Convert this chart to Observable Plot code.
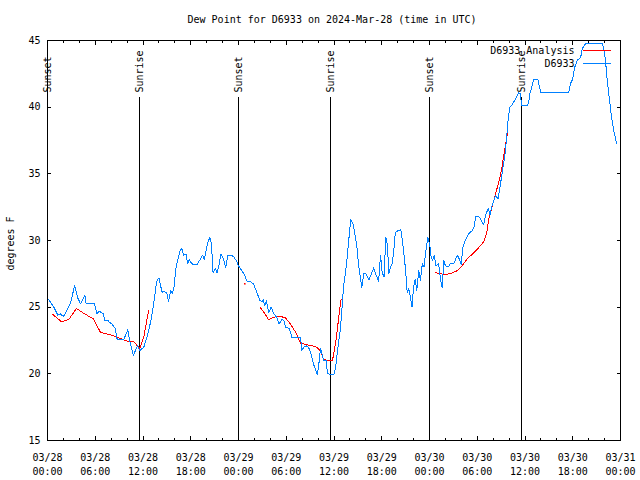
<!DOCTYPE html>
<html><head><meta charset="utf-8">
<script src="https://cdn.jsdelivr.net/npm/d3@7"></script>
<script src="https://cdn.jsdelivr.net/npm/@observablehq/plot@0.6"></script>
<style>
html,body{margin:0;padding:0;background:#fff;}
#chart svg{display:block;}
#chart svg path, #chart svg line, #chart svg rect{shape-rendering:crispEdges;}
</style>
</head><body><div id="chart"></div>
<script>
const title = "Dew Point for D6933 on 2024-Mar-28 (time in UTC)";
const yLabel = "degrees F";
const startISO = "2024-03-28T00:00:00Z";
const endISO = "2024-03-31T00:00:00Z";
const yTicks = [15, 20, 25, 30, 35, 40, 45];
const seriesNames = ["D6933 Analysis", "D6933"];
const seriesColors = ["#ff0000", "#0080ff"];
const eventLabels = ["Sunset", "Sunrise", "Sunset", "Sunrise", "Sunset", "Sunrise"];
const eventHours = [0.0, 11.56, 24.0, 35.55, 48.0, 59.55];

// observations (hours since 03/28 00:00 UTC, dew point F)
const obsHours = [0.16,0.8,1.3,1.6,2.0,2.4,2.9,3.4,3.8,4.15,4.7,4.85,5.9,6.2,6.5,7.0,7.2,7.6,7.7,8.1,8.5,8.75,9.6,10.1,10.35,10.8,11.3,11.6,12.1,12.5,13.0,13.4,13.7,14.0,14.4,14.6,15.0,15.2,15.5,15.7,15.9,16.1,16.3,16.7,16.9,17.1,17.4,17.6,17.8,17.97,18.3,18.8,19.2,19.5,19.7,20.1,20.4,20.6,20.8,21.1,21.3,21.5,21.8,22.1,22.4,22.65,23.0,23.4,23.8,24.0,24.4,24.7,25.1,25.5,25.9,26.3,26.7,27.0,27.1,27.3,27.5,27.8,28.1,28.4,28.85,29.1,29.5,29.7,29.9,30.1,30.4,30.7,31.2,31.8,31.96,32.2,32.5,32.8,33.1,33.5,33.8,33.9,34.1,34.3,34.5,34.7,35.0,35.2,36.0,36.2,36.6,36.8,37.2,37.6,37.9,38.1,38.4,38.6,38.9,39.1,39.3,39.5,39.75,40.0,40.4,40.7,41.0,41.2,41.4,41.6,41.85,42.05,42.3,42.5,42.7,42.9,43.1,43.3,43.5,43.7,44.1,44.4,44.7,45.0,45.2,45.4,45.6,45.8,46.0,46.2,46.4,46.65,46.85,47.1,47.3,47.5,47.8,48.05,48.2,48.4,48.6,48.8,49.1,49.2,49.4,49.6,49.8,50.0,50.4,50.6,51.05,51.5,51.8,51.98,52.2,52.5,52.9,53.4,53.6,53.8,54.3,54.5,54.8,55.1,55.4,55.6,55.8,56.1,56.3,56.6,56.8,57.05,57.3,57.5,57.7,57.9,58.1,58.4,58.8,59.2,59.4,59.6,60.3,60.5,60.6,60.9,61.1,61.6,61.8,62.0,65.5,65.7,66.0,66.2,66.55,67.0,67.2,67.6,69.7,69.9,70.1,70.2,70.35,70.55,70.8,71.0,71.2,71.3,71.5];
const obsDew = [25.55,25.0,24.4,24.5,24.3,24.7,25.3,26.6,25.7,25.25,25.9,25.3,25.3,24.5,24.7,24.5,24.0,24.0,23.9,23.75,23.4,22.6,22.6,23.3,22.4,21.4,22.1,21.75,22.0,22.75,24.0,25.5,26.9,27.2,26.1,26.2,26.05,25.4,26.25,26.0,26.5,27.75,28.4,29.3,29.4,28.9,29.0,28.25,28.6,28.4,28.2,28.2,28.6,28.9,28.6,29.75,30.25,29.75,27.6,27.9,27.6,28.0,29.0,28.6,28.0,28.9,28.9,28.8,28.4,28.1,27.75,27.5,26.9,26.9,26.75,26.1,25.5,25.4,25.6,25.1,25.5,24.6,25.0,24.55,24.2,23.75,24.1,24.0,23.5,23.45,23.4,22.75,22.7,22.7,21.75,22.0,22.1,22.0,21.5,20.6,20.1,19.95,20.75,21.9,21.5,21.0,21.0,20.0,19.95,20.5,22.5,23.3,26.5,28.4,30.3,31.55,31.25,30.6,29.4,28.1,27.25,26.5,27.5,27.5,27.05,27.5,27.95,27.5,27.25,26.9,28.9,27.6,27.25,30.25,29.75,27.5,28.0,28.25,29.1,30.6,30.75,30.8,29.5,27.75,26.1,26.4,25.75,25.0,26.5,27.1,26.25,27.75,27.0,28.25,28.0,29.0,30.25,29.6,28.75,28.5,28.9,28.1,28.25,28.0,27.0,26.45,28.5,28.1,28.05,28.25,28.25,28.9,28.55,28.2,29.5,30.0,30.5,30.75,31.0,31.8,31.75,31.5,31.2,32.0,32.4,31.9,32.5,33.0,33.4,33.1,33.75,34.75,35.75,36.5,37.75,39.25,40.0,40.2,40.6,41.1,41.0,40.1,40.1,40.5,41.0,41.6,42.1,42.1,41.6,41.1,41.1,41.75,42.1,42.9,43.5,43.75,44.4,44.75,44.75,44.4,43.6,42.9,41.9,40.9,39.6,38.75,38.1,37.9,37.25];

// analysis (null = gap)
const anaHours = [0.67,1.76,2.7,3.64,4.4,5.8,6.66,8.1,10.0,10.85,11.6,12.1,12.7,null,24.8,null,26.76,27.2,27.8,28.4,29.3,29.9,30.5,31.2,31.8,32.4,33.7,34.2,34.7,35.2,35.8,36.0,36.3,36.5,36.7,36.9,null,48.75,49.4,50.0,50.8,51.55,52.1,52.7,53.6,54.4,54.8,55.2,55.45,55.9,56.3,56.8,57.1,57.5,57.8];
const anaDew = [24.45,23.9,24.1,24.9,24.6,24.1,23.1,22.9,22.45,22.4,21.9,22.75,24.75,null,26.75,null,24.95,24.6,24.05,24.25,24.3,24.2,23.75,23.1,22.3,22.2,22.05,21.8,21.1,21.0,21.0,21.6,22.75,23.75,24.75,25.6,null,27.6,27.5,27.45,27.55,27.75,28.1,28.6,29.1,29.6,29.9,30.6,31.6,32.6,33.5,34.6,35.5,37.0,38.1];

const t0 = new Date(startISO), t1 = new Date(endISO);
const toDate = h => new Date(+t0 + h * 3600e3);
const obs = obsHours.map((h, i) => ({t: toDate(h), v: obsDew[i]}));
const ana = anaHours.map((h, i) => ({t: h == null ? null : toDate(h), v: anaDew[i] == null ? NaN : anaDew[i]}));
const anaIsolated = ana.filter((d, i) => d.t && !(ana[i-1] && ana[i-1].t) && !(ana[i+1] && ana[i+1].t));
const events = eventHours.map((h, i) => ({t: toDate(h), label: eventLabels[i]}));

const minorTicks = d3.utcHour.every(2).range(t0, new Date(+t1 + 1));
const majorTicks = d3.utcHour.every(6).range(t0, new Date(+t1 + 1));
const fmtDay = d3.utcFormat("%m/%d"), fmtHour = d3.utcFormat("%H:%M");

const hline = {draw(ctx, size) { const r = Math.sqrt(size / Math.PI); ctx.moveTo(-r, 0); ctx.lineTo(r, 0); }};

const chart = Plot.plot({
  width: 640, height: 480,
  marginLeft: 47, marginRight: 20, marginTop: 40, marginBottom: 40,
  style: {fontFamily: "'DejaVu Sans Mono', monospace", fontSize: "10px", background: "#fff", color: "#000"},
  x: {type: "utc", domain: [t0, t1]},
  y: {type: "linear", domain: [15, 45]},
  marks: [
    // axis ticks (inward, mirrored)
    Plot.axisX(minorTicks, {anchor: "bottom", tickSize: 2, dy: -2, fill: "none", label: null}),
    Plot.axisX(majorTicks, {anchor: "bottom", tickSize: 4, dy: -4, fill: "none", label: null}),
    Plot.axisX(minorTicks, {anchor: "top", tickSize: 2, dy: 2, fill: "none", label: null}),
    Plot.axisX(majorTicks, {anchor: "top", tickSize: 4, dy: 4, fill: "none", label: null}),
    Plot.axisY(yTicks, {anchor: "left", tickSize: 4, dx: 4, fill: "none", label: null}),
    Plot.axisY(yTicks, {anchor: "right", tickSize: 4, dx: -4, fill: "none", label: null}),
    // tick labels
    Plot.axisX(majorTicks, {anchor: "bottom", tickSize: 0, tickPadding: 11, lineHeight: 1.4,
      tickFormat: d => fmtDay(d) + "\n" + fmtHour(d), label: null}),
    Plot.axisY(yTicks, {anchor: "left", tickSize: 0, tickPadding: 7, label: null}),
    // sunrise / sunset
    Plot.ruleX(events, {x: "t", insetTop: 57, stroke: "#000", strokeWidth: 1}),
    Plot.text(events, {x: "t", text: "label", frameAnchor: "top", dy: 52, rotate: -90, textAnchor: "start", lineAnchor: "middle", fill: "#000"}),
    // data
    Plot.line(ana, {x: "t", y: "v", stroke: seriesColors[0], strokeWidth: 1}),
    Plot.dot(anaIsolated, {x: "t", y: "v", r: 0.9, fill: seriesColors[0], stroke: null}),
    Plot.line(obs, {x: "t", y: "v", stroke: seriesColors[1], strokeWidth: 1}),
    Plot.frame({stroke: "#000", strokeWidth: 1}),
    // legend
    Plot.text([seriesNames[0]], {text: d => d, frameAnchor: "top-right", dx: -46, dy: 10.5, textAnchor: "end", lineAnchor: "middle", fill: "#000"}),
    Plot.text([seriesNames[1]], {text: d => d, frameAnchor: "top-right", dx: -46, dy: 23, textAnchor: "end", lineAnchor: "middle", fill: "#000"}),
    Plot.dot([0], {frameAnchor: "top-right", dx: -24, dy: 10, symbol: hline, r: 14, stroke: seriesColors[0], fill: "none", strokeWidth: 1}),
    Plot.dot([0], {frameAnchor: "top-right", dx: -24, dy: 22.5, symbol: hline, r: 14, stroke: seriesColors[1], fill: "none", strokeWidth: 1}),
    // title and y label
    Plot.text([title], {text: d => d, frameAnchor: "top", dy: -21, dx: -2, lineAnchor: "middle", textAnchor: "middle", fill: "#000"}),
    Plot.text([yLabel], {text: d => d, frameAnchor: "left", dx: -37, dy: 3, rotate: -90, textAnchor: "middle", lineAnchor: "middle", fill: "#000"})
  ]
});
document.getElementById("chart").appendChild(chart);
</script>
</body></html>
